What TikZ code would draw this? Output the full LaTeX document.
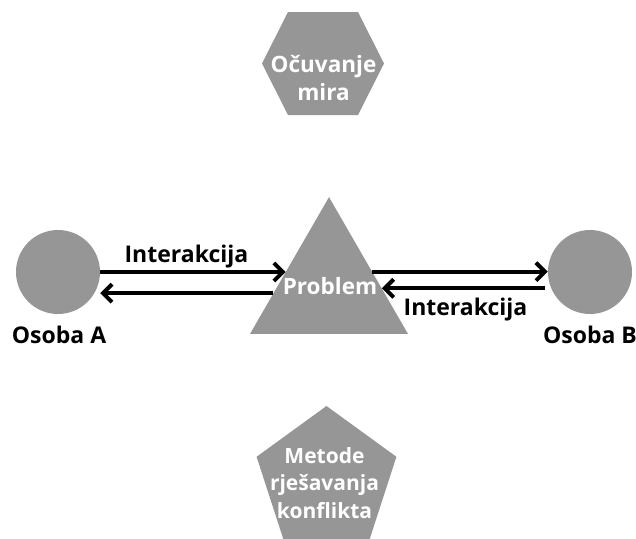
\documentclass[tikz,border=0pt]{standalone}
\usepackage{fontspec}
\setmainfont{Open Sans}
\usetikzlibrary{shapes.geometric,arrows.meta,calc}
\definecolor{shapegray}{RGB}{150,150,150}
\tikzset{
  shapefill/.style={fill=shapegray,draw=none},
  whitetxt/.style={text=white,font=\fontsize{22.5}{28}\selectfont\bfseries,align=center,inner sep=0pt,anchor=base},
  penttxtstyle/.style={text=white,font=\fontsize{21}{27.5}\selectfont\bfseries,align=center,inner sep=0pt,anchor=base},
  blacktxt/.style={text=black,font=\fontsize{23}{28}\selectfont\bfseries,inner sep=0pt,anchor=base},
  arr/.style={line width=4pt,-{Straight Barb[length=9pt,width=18pt,line width=4pt]}}
}
\begin{document}
\begin{tikzpicture}[x=1pt,y=-1pt]
\useasboundingbox (0,0) rectangle (636,538);
\begin{scope}
\clip (0,0) rectangle (636,538);
% hexagon
\fill[shapegray] (288,12) -- (358,12) -- (384,63.5) -- (358,115) -- (288,115) -- (262,63.5) -- cycle;
% pentagon
\node[shapefill,regular polygon,regular polygon sides=5,minimum size=147pt,inner sep=0pt] (pent) at (326.5,479.5) {};
\end{scope}
% circles
\node[shapefill,circle,minimum size=84pt,inner sep=0pt] (A) at (58,272) {};
\node[shapefill,circle,minimum size=84pt,inner sep=0pt] (B) at (590,272) {};
% triangle
\node[shapefill,regular polygon,regular polygon sides=3,minimum size=182.4pt,inner sep=0pt] (P) at (329,288.3) {};
% texts
\node[whitetxt] (hextxt) at (323.5,100) {Očuvanje\\mira};
\node[penttxtstyle] (penttxt) at (324.5,518) {Metode\\rješavanja\\konflikta};
\node[whitetxt] (probtxt) at (330,294) {Problem};
\node[blacktxt] (lab1) at (186.5,262) {Interakcija};
\node[blacktxt] (lab2) at (465.5,315) {Interakcija};
\node[blacktxt] (osA) at (59,343) {Osoba A};
\node[blacktxt] (osB) at (590,343) {Osoba B};
% arrows
\draw[arr] (A.east) -- (A.east -| P.159);
\draw[arr] (P.185) -- (P.185 -| A.east);
\draw[arr] (P.21) -- (P.21 -| B.west);
\draw[arr,shorten <=3pt] (P.0 -| B.west) -- (P.0);
\end{tikzpicture}
\end{document}
